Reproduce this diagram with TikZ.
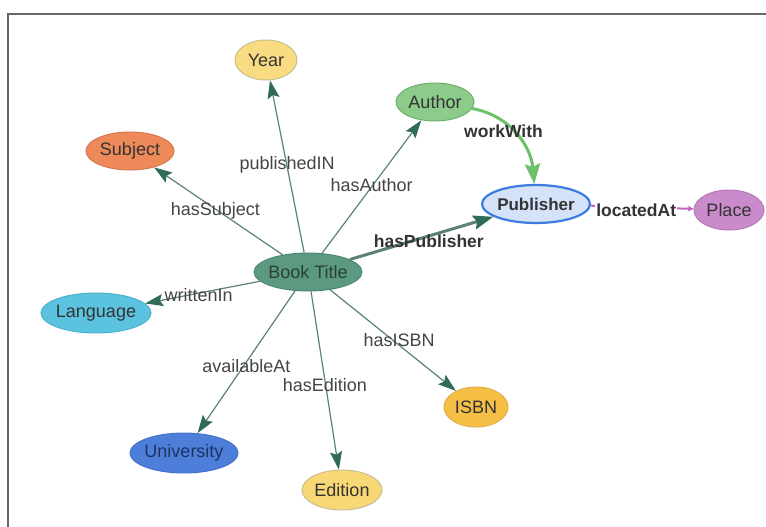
\documentclass[tikz,border=0pt]{standalone}
\usepackage{fontspec}
\setmainfont{Liberation Sans}
\usetikzlibrary{shapes.geometric,arrows.meta}
\definecolor{edgec}{HTML}{5A8275}
\definecolor{headc}{HTML}{2F6B55}
\definecolor{txt}{HTML}{333333}
\definecolor{lbl}{HTML}{444444}
\newcommand\nbx[1]{\makebox[0pt]{#1}}
\tikzset{
  ent/.style={ellipse,draw,line width=1pt,inner sep=0pt,text=txt,font=\fontsize{18}{20}\selectfont},
  rel/.style={draw=edgec,line width=1.2pt,-{Stealth[length=18pt,width=12pt,inset=3pt,color=headc]}},
  rlab/.style={text=lbl,font=\fontsize{18}{20}\selectfont,inner sep=1pt},
  blab/.style={text=txt,font=\bfseries\fontsize{17.5}{20}\selectfont,inner sep=1pt}
}
\begin{document}
\begin{tikzpicture}[x=1pt,y=-1pt]
\useasboundingbox (0,0) rectangle (766,527);
\draw[line width=1.5pt,color=black!60] (8,527) |- (766,14);
% nodes
\node[ent,fill={rgb,255:red,249;green,220;blue,130},draw={rgb,255:red,200;green,190;blue,140},minimum width=62,minimum height=40] (year) at (266,60) {\nbx{Year}};
\node[ent,fill={rgb,255:red,141;green,203;blue,138},draw={rgb,255:red,110;green,175;blue,110},minimum width=78,minimum height=38] (author) at (435,102) {\nbx{Author}};
\node[ent,fill={rgb,255:red,238;green,138;blue,90},draw={rgb,255:red,215;green,120;blue,80},minimum width=88,minimum height=38] (subject) at (130,151) {\nbx{Subject}};
\node[ent,fill={rgb,255:red,212;green,227;blue,250},draw={rgb,255:red,61;green,123;blue,224},line width=2.2pt,minimum width=108,minimum height=38,font=\bfseries\fontsize{17}{20}\selectfont] (pub) at (536,204) {\nbx{Publisher}};
\node[ent,fill={rgb,255:red,201;green,139;blue,203},draw={rgb,255:red,180;green,120;blue,185},minimum width=70,minimum height=40] (place) at (729,210) {\nbx{Place}};
\node[ent,fill={rgb,255:red,91;green,154;blue,128},draw={rgb,255:red,75;green,135;blue,110},minimum width=108,minimum height=38,text={rgb,255:red,40;green,65;blue,55}] (book) at (308,272) {\nbx{Book Title}};
\node[ent,fill={rgb,255:red,91;green,195;blue,224},draw={rgb,255:red,80;green,175;blue,205},minimum width=110,minimum height=40] (lang) at (96,313) {\nbx{Language}};
\node[ent,fill={rgb,255:red,246;green,191;blue,69},draw={rgb,255:red,225;green,175;blue,70},minimum width=64,minimum height=40] (isbn) at (476,407) {\nbx{ISBN}};
\node[ent,fill={rgb,255:red,77;green,127;blue,218},draw={rgb,255:red,70;green,115;blue,200},minimum width=108,minimum height=40,text={rgb,255:red,30;green,50;blue,100}] (uni) at (184,453) {\nbx{University}};
\node[ent,fill={rgb,255:red,248;green,216;blue,116},draw={rgb,255:red,200;green,190;blue,150},minimum width=80,minimum height=40] (edition) at (342,490) {\nbx{Edition}};
% edges
\draw[rel] (book) -- node[rlab,yshift=2pt] {publishedIN} (year);
\draw[rel] (book) -- node[rlab,yshift=2pt] {hasAuthor} (author);
\draw[rel] (book) -- node[rlab,xshift=-3pt] {hasSubject} (subject);
\draw[rel] (book) -- node[rlab,xshift=-4pt,yshift=-3pt] {writtenIn} (lang);
\draw[rel] (book) -- node[rlab,yshift=-4pt] {availableAt} (uni);
\draw[rel] (book) -- node[rlab,yshift=-5pt] {hasEdition} (edition);
\draw[rel] (book) -- node[rlab,xshift=6pt] {hasISBN} (isbn);
\draw[rel,line width=3pt,-{Stealth[length=20pt,width=14pt,inset=3pt,color=headc]}] (book) -- node[blab,pos=0.55,yshift=-5pt] {hasPublisher} (pub);
\draw[draw={rgb,255:red,108;green,192;blue,106},line width=3pt,-{Stealth[length=20pt,width=15pt,inset=3pt]}] (author) to[out=-10,in=95] node[blab,pos=0.3,below=2pt,xshift=2pt] {workWith} (pub);
\draw[draw={rgb,255:red,190;green,100;blue,190},line width=2pt,-{Stealth[length=6pt,width=6pt]}] (pub) -- node[blab,fill=white,xshift=-6pt,yshift=-3pt] {locatedAt} (place);
\end{tikzpicture}
\end{document}
